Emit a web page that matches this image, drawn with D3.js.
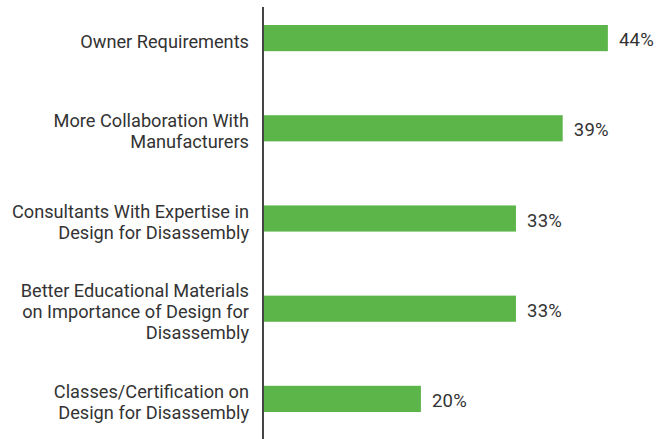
<!DOCTYPE html>
<html>
<head>
<meta charset="utf-8">
<script src="https://cdn.jsdelivr.net/npm/d3@7"></script>
<style>
body{margin:0;background:#fff;}
text{font-family:Roboto,"Noto Sans",sans-serif;fill:#333;}
</style>
</head>
<body>
<div id="chart"></div>
<script>
var w=666
var h=439

//categories (line breaks as in the original labels)
var categories=["Owner Requirements",
                "More Collaboration With\nManufacturers",
                "Consultants With Expertise in\nDesign for Disassembly",
                "Better Educational Materials\non Importance of Design for\nDisassembly",
                "Classes/Certification on\nDesign for Disassembly"];
//share of respondents, %
var values=[44.4,38.6,32.6,32.6,20.4];

var data=categories.map(function(c,i) {return {cat:c,value:values[i]};});

var svg=d3.select("#chart")
          .append("svg")
          .attr("width",w)
          .attr("height",h);

var xAxisLeft=263;

//Scaling function for bar length
var xScale=d3.scaleLinear()
             .domain([0,50])
             .range([xAxisLeft-1,xAxisLeft-1+7.79*50]);

//Scaling function for categories
var yScale=d3.scaleBand()
             .domain(categories)
             .range([16,421])
             .paddingInner(0.71)
             .paddingOuter(0.1);

var formatPct=function(v) {return Math.round(v)+"%";};

//Draw bars
svg.append("g")
   .attr("class","bars")
   .selectAll("rect")
   .data(data)
   .enter()
   .append("rect")
   .attr("x",xScale(0))
   .attr("y",function(d) {return yScale(d.cat);})
   .attr("width",function(d) {return xScale(d.value)-xScale(0);})
   .attr("height",yScale.bandwidth())
   .attr("fill","#5cb548");

//Value labels
svg.append("g")
   .attr("class","values")
   .selectAll("text")
   .data(data)
   .enter()
   .append("text")
   .attr("x",function(d) {return xScale(d.value)+11;})
   .attr("y",function(d) {return yScale(d.cat)+yScale.bandwidth()/2+8;})
   .attr("font-size","18.5px")
   .attr("letter-spacing","0.3px")
   .text(function(d) {return formatPct(d.value);});

//Category labels
var lineH=21;
var labels=svg.append("g")
              .attr("class","cat-labels")
              .selectAll("text")
              .data(data)
              .enter()
              .append("text")
              .attr("text-anchor","end")
              .attr("font-size","18.2px")
              .attr("y",function(d) {
                  var n=d.cat.split("\n").length;
                  return yScale(d.cat)+yScale.bandwidth()/2+9.5-(n-1)*lineH/2;
              });
labels.each(function(d) {
    var t=d3.select(this);
    var y0=+t.attr("y");
    d.cat.split("\n").forEach(function(line,i) {
        t.append("tspan")
         .attr("x",249)
         .attr("y",y0+i*lineH)
         .text(line);
    });
});

//Axis line
svg.append("line")
   .attr("x1",xAxisLeft)
   .attr("x2",xAxisLeft)
   .attr("y1",7)
   .attr("y2",h)
   .attr("stroke","#444")
   .attr("stroke-width",2);
</script>
</body>
</html>
